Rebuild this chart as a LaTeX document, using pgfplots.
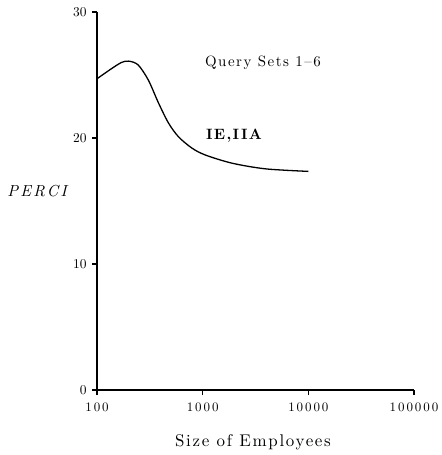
\documentclass[border=0pt]{standalone}
\usepackage{fontspec}
\setmainfont{lmroman10}[Extension=.otf, UprightFont=*-regular, BoldFont=*-bold, ItalicFont=*-italic, BoldItalicFont=*-bolditalic]
\usepackage{pgfplots}
\pgfplotsset{compat=1.18}
\begin{document}
\begin{tikzpicture}
\begin{axis}[
  at={(0,0)}, anchor=south west,
  scale only axis, width=317bp, height=378bp,
  xmode=log, xmin=100, xmax=100000, ymin=0, ymax=30,
  axis lines=left, axis line style={line width=2pt, -},
  xtick={100,1000,10000,100000}, xticklabels={100,1000,10000,100000},
  xminorticks=false,
  ytick={0,10,20,30}, yticklabels={0,10,20,30},
  tick style={black, line width=1.2pt}, tick align=outside, major tick length=5bp,
  xticklabel style={font=\fontsize{13}{15}\selectfont\addfontfeatures{LetterSpace=15}, yshift=-4bp},
  yticklabel style={font=\fontsize{13.5}{15}\selectfont, xshift=-2bp},
  /pgf/number format/assume math mode=true,
  clip=false,
]
\addplot[black, line width=1.3pt, smooth, tension=0.5] coordinates {
(100,24.7) (137,25.5) (171,26.0) (200,26.1) (245,25.8) (306,24.6) (381,22.8)
(474,21.2) (590,20.1) (791,19.2) (1060,18.65) (1900,18.0) (3950,17.55) (10000,17.35)
};
\end{axis}
\node[font=\fontsize{15}{17}\selectfont\addfontfeatures{LetterSpace=10}] at (166bp,327bp) {Query Sets 1--6};
\node[font=\fontsize{15}{17}\selectfont\bfseries\addfontfeatures{LetterSpace=9}] at (137bp,254bp) {IE,IIA};
\node[font=\fontsize{16}{18}\selectfont\itshape\addfontfeatures{LetterSpace=14}] at (-60bp,199bp) {PERCI};
\node[font=\fontsize{17}{19}\selectfont\addfontfeatures{LetterSpace=10}] at (156bp,-52bp) {Size of Employees};
\pgfresetboundingbox
\path[use as bounding box] (-97bp,-65bp) rectangle (345bp,390bp);
\end{tikzpicture}
\end{document}
